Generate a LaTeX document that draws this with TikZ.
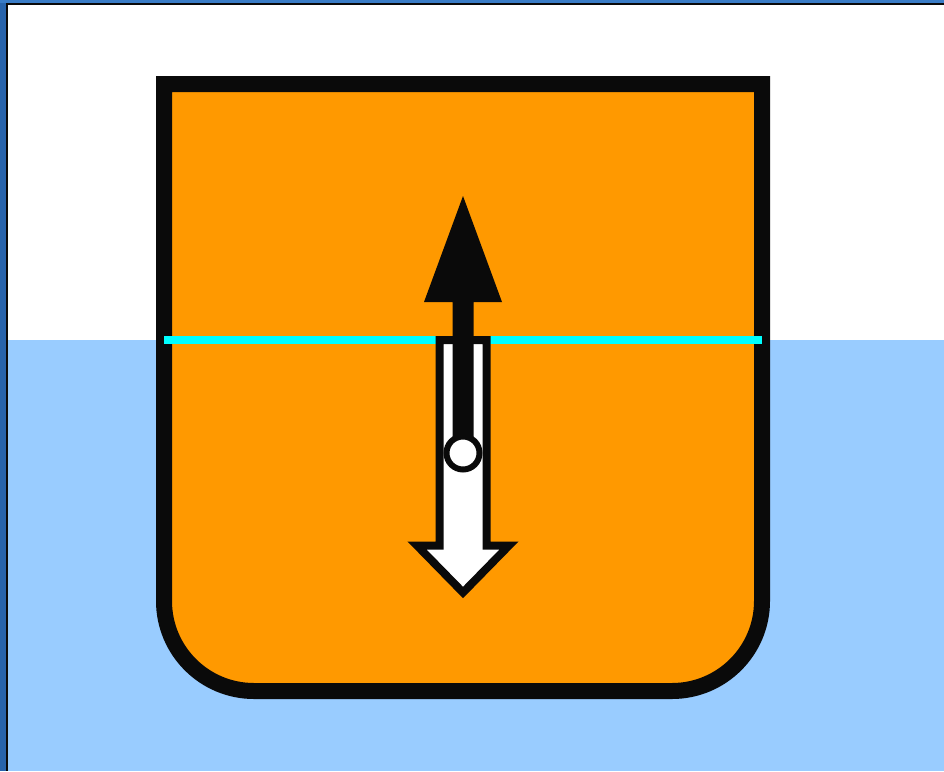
\documentclass[tikz,border=0pt]{standalone}
\definecolor{winblue}{HTML}{2864AC}
\definecolor{winblueT}{HTML}{3A7CC6}
\definecolor{ink}{HTML}{0A0A0A}
\definecolor{hull}{HTML}{FF9900}
\definecolor{water}{HTML}{99CCFF}
\definecolor{wline}{HTML}{00FFFF}
\tikzset{
  hullstyle/.style={fill=hull, draw=ink, line width=16pt, miter limit=10},
  downarrow/.style={fill=white, draw=ink, line width=8pt, line join=miter, miter limit=10},
  pivot/.style={fill=white, draw=ink, line width=6pt},
  waterline/.style={draw=wline, line width=8pt}
}
\begin{document}
\begin{tikzpicture}[x=1pt,y=-1pt]
\useasboundingbox (0,0) rectangle (944,771);
% window frame
\fill[winblue] (0,0) rectangle (944,771);
\fill[winblueT] (0,0) rectangle (944,3);
\fill[ink] (5.5,3) rectangle (944,771);
\fill[gray!60] (7.5,4.5) rectangle (944,5.3);
% sky and water
\fill[white] (7.5,5.3) rectangle (944,340);
\fill[water] (7.5,340) rectangle (944,771);
% hull
\draw[hullstyle] (164,84) -- (164,601) arc[start angle=180, end angle=90, radius=90]
  -- (672,691) arc[start angle=90, end angle=0, radius=90] -- (762,84) -- cycle;
% waterline
\draw[waterline] (164,340) -- (762,340);
% white downward arrow
\draw[downarrow] (439.5,340) -- (486.5,340) -- (486.5,545.5) -- (509,545.5)
  -- (463,592.5) -- (417,545.5) -- (439.5,545.5) -- cycle;
% black upward arrow
\fill[ink] (463,196) -- (502,302) -- (473.5,302) -- (473.5,453) -- (452.5,453)
  -- (452.5,302) -- (424,302) -- cycle;
% pivot circle
\draw[pivot] (463,453) circle[radius=16.5];
\end{tikzpicture}
\end{document}
